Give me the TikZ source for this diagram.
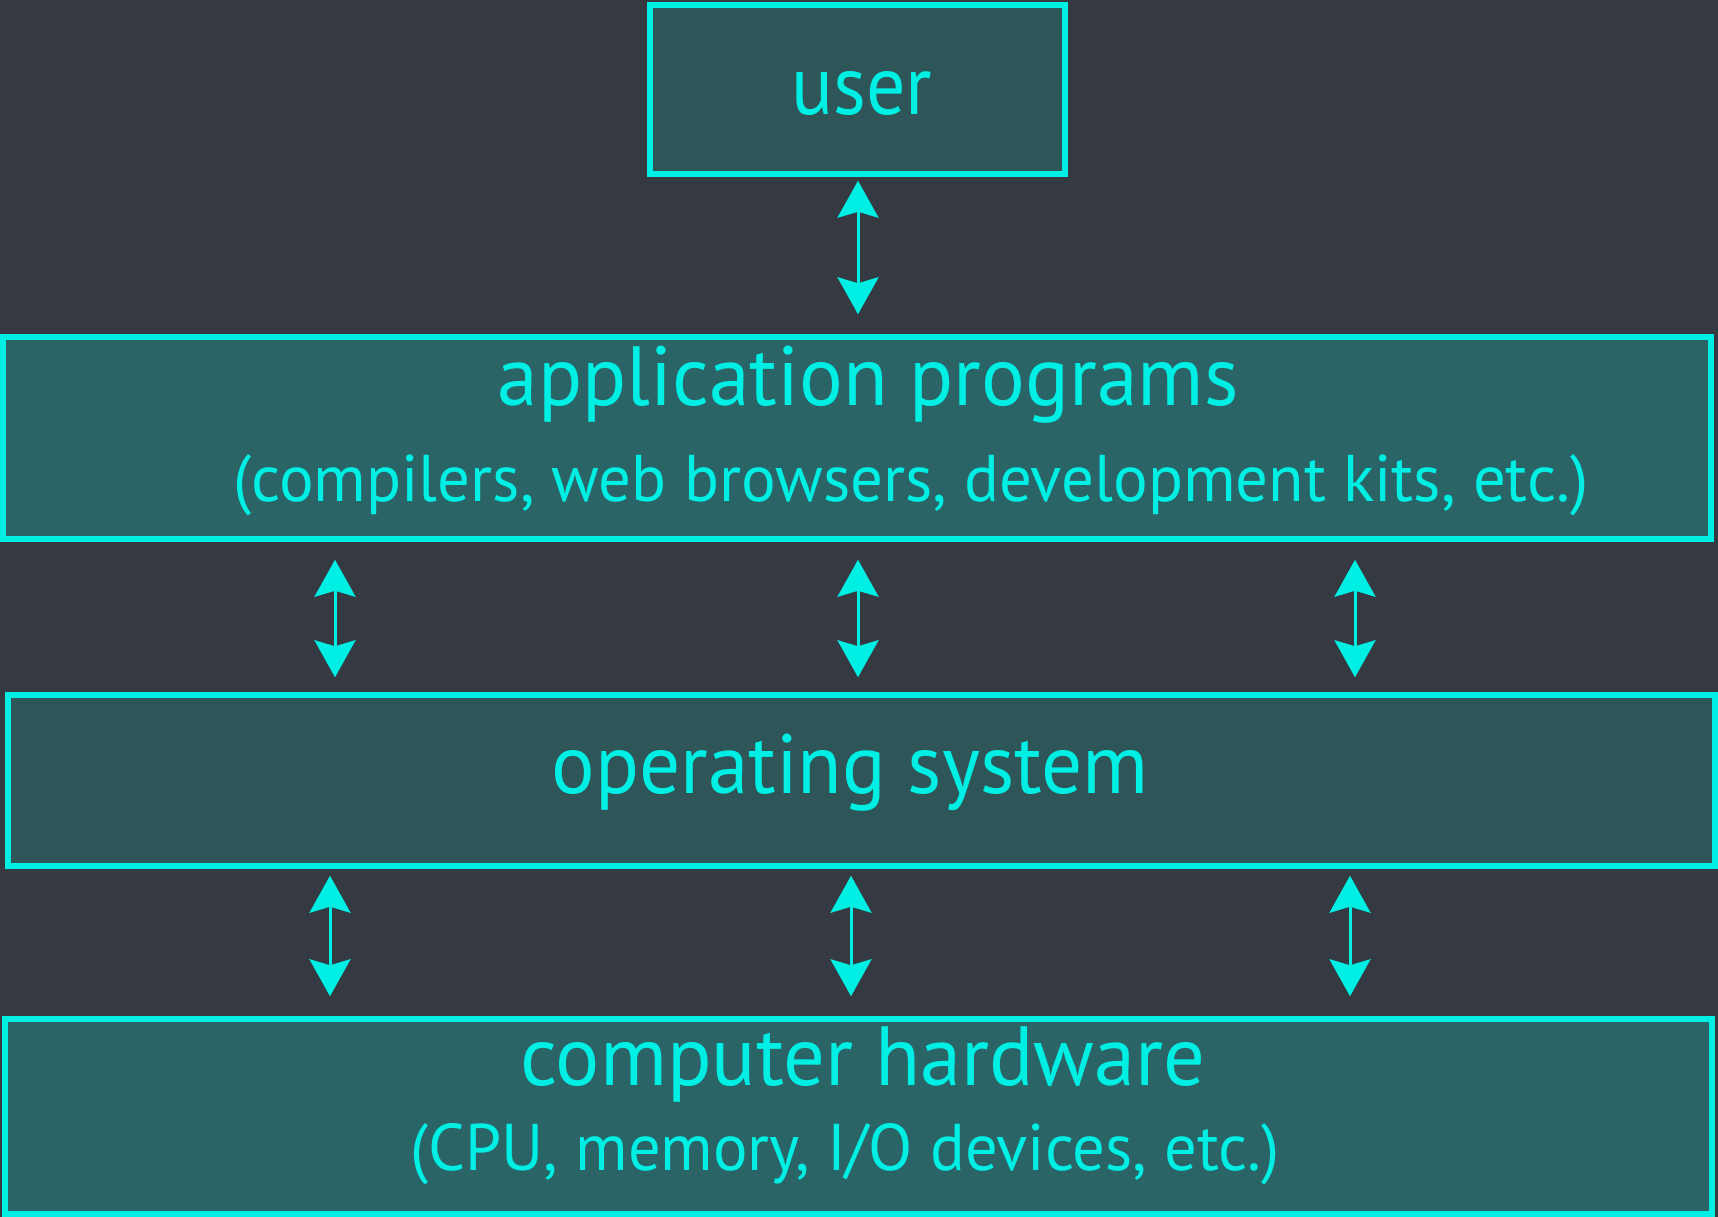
\documentclass[tikz,border=0pt]{standalone}
\usepackage{fontspec}
\setmainfont{PT Sans}
\usepackage{graphicx}
\usetikzlibrary{arrows.meta}
\definecolor{bgc}{HTML}{353A42}
\definecolor{fillA}{HTML}{2E5558}
\definecolor{fillB}{HTML}{2A6467}
\definecolor{cyanline}{HTML}{00EFE4}
\newcommand{\fitw}[3]{\begingroup\fontsize{#2}{#2}\selectfont
  \setbox0\hbox{#3}%
  \pgfmathsetmacro\myscx{#1/\the\wd0}%
  \scalebox{\myscx}[1]{\box0}\endgroup}
\begin{document}
\begin{tikzpicture}[x=1pt,y=-1pt,
  layerbox/.style={draw=cyanline, line width=5.5pt, inner sep=0pt, rectangle},
  lbl/.style={text=cyanline, inner sep=0pt, anchor=base},
  dbl/.style={{Stealth[length=37pt,width=41pt,inset=6pt]}-{Stealth[length=37pt,width=41pt,inset=6pt]}, line width=3pt, draw=cyanline}]
\fill[bgc] (0,0) rectangle (1718,1217);
\useasboundingbox (0,0) rectangle (1718,1217);
% boxes
\node[layerbox, fill=fillA, minimum width=415pt, minimum height=169pt] (user) at (857.5,89.5) {};
\node[layerbox, fill=fillB, minimum width=1708pt, minimum height=202pt] (app) at (857,438) {};
\node[layerbox, fill=fillA, minimum width=1707pt, minimum height=171pt] (os) at (861.5,780.5) {};
\node[layerbox, fill=fillB, minimum width=1707pt, minimum height=195pt] (hw) at (858.5,1116.5) {};
% labels
\node[lbl] (tuser) at (862,115) {\fitw{141}{84}{user}};
\node[lbl] (tapp) at (868,405) {\fitw{741}{84}{application programs}};
\node[lbl] (tappsub) at (911,501) {\fitw{1355}{66}{(compilers, web browsers, development kits, etc.)}};
\node[lbl] (tos) at (850,793) {\fitw{597}{84}{operating system}};
\node[lbl] (thw) at (863,1085) {\fitw{685}{84}{computer hardware}};
\node[lbl] (thwsub) at (845,1170) {\fitw{869}{66}{(CPU, memory, I/O devices, etc.)}};
% arrow columns
\coordinate (u0) at (858,0);
\coordinate (a1) at (335,0);
\coordinate (a2) at (858,0);
\coordinate (a3) at (1355,0);
\coordinate (b1) at (330,0);
\coordinate (b2) at (851,0);
\coordinate (b3) at (1350,0);
\draw[dbl, shorten <=4pt, shorten >=20pt] (user.south -| u0) -- (app.north -| u0);
\foreach \c in {a1,a2,a3}
  \draw[dbl, shorten <=18pt, shorten >=15pt] (app.south -| \c) -- (os.north -| \c);
\foreach \c in {b1,b2,b3}
  \draw[dbl, shorten <=7pt, shorten >=20pt] (os.south -| \c) -- (hw.north -| \c);
\end{tikzpicture}
\end{document}
